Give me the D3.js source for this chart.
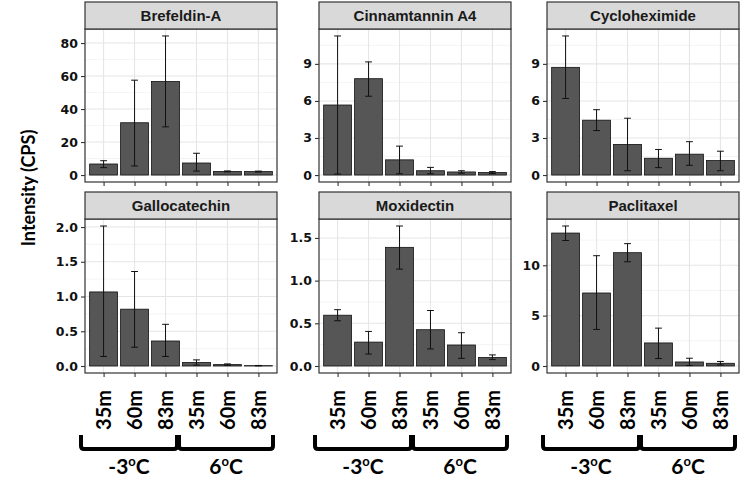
<!DOCTYPE html>
<html><head><meta charset="utf-8">
<script src="https://cdn.jsdelivr.net/npm/d3@7"></script>
<style>body{margin:0;background:#fff}</style>
</head><body><svg id="c" width="740" height="479"></svg>
<script>
// ---- data ----
const compounds = ["Brefeldin-A","Cinnamtannin A4","Cycloheximide","Gallocatechin","Moxidectin","Paclitaxel"];
const timepoints = ["35m","60m","83m","35m","60m","83m"];
const temperatures = ["-3","6"];

const meanBrefeldin = [6.7, 31.7, 56.7, 7.3, 2.2, 2.1];
const hiBrefeldin   = [8.7, 57.5, 84.3, 13.2, 2.5, 2.4];
const loBrefeldin   = [4.5, 5.5, 29.2, 2.4, 1.9, 1.8];

const meanCinnamtannin = [5.67, 7.8, 1.23, 0.35, 0.25, 0.2];
const hiCinnamtannin   = [11.26, 9.16, 2.34, 0.62, 0.35, 0.28];
const loCinnamtannin   = [0.08, 6.38, 0.1, 0.1, 0.15, 0.12];

const meanCycloheximide = [8.72, 4.44, 2.48, 1.36, 1.69, 1.17];
const hiCycloheximide   = [11.26, 5.29, 4.6, 2.07, 2.7, 1.93];
const loCycloheximide   = [6.2, 3.6, 0.35, 0.6, 0.79, 0.35];

const meanGallocatechin = [1.066, 0.818, 0.36, 0.05, 0.02, 0.005];
const hiGallocatechin   = [2.015, 1.36, 0.6, 0.088, 0.03, 0.008];
const loGallocatechin   = [0.137, 0.27, 0.137, 0.012, 0.01, 0.002];

const meanMoxidectin = [0.595, 0.28, 1.39, 0.425, 0.246, 0.1];
const hiMoxidectin   = [0.66, 0.405, 1.64, 0.65, 0.39, 0.13];
const loMoxidectin   = [0.53, 0.14, 1.135, 0.2, 0.09, 0.075];

const meanPaclitaxel = [13.2, 7.25, 11.25, 2.29, 0.4, 0.27];
const hiPaclitaxel   = [13.9, 10.95, 12.15, 3.76, 0.77, 0.45];
const loPaclitaxel   = [12.46, 3.63, 10.35, 0.74, 0.05, 0.1];

const ticksBrefeldin = [0, 20, 40, 60, 80];
const ticksCinnamtannin = [0, 3, 6, 9];
const ticksCycloheximide = [0, 3, 6, 9];
const ticksGallocatechin = [0, 0.5, 1, 1.5, 2];
const ticksMoxidectin = [0, 0.5, 1, 1.5];
const ticksPaclitaxel = [0, 5, 10];

// ---- assemble ----
const means = [meanBrefeldin, meanCinnamtannin, meanCycloheximide, meanGallocatechin, meanMoxidectin, meanPaclitaxel];
const his = [hiBrefeldin, hiCinnamtannin, hiCycloheximide, hiGallocatechin, hiMoxidectin, hiPaclitaxel];
const los = [loBrefeldin, loCinnamtannin, loCycloheximide, loGallocatechin, loMoxidectin, loPaclitaxel];
const ticks = [ticksBrefeldin, ticksCinnamtannin, ticksCycloheximide, ticksGallocatechin, ticksMoxidectin, ticksPaclitaxel];
const tickFmt = [d3.format("d"), d3.format("d"), d3.format("d"), d3.format(".1f"), d3.format(".1f"), d3.format("d")];

const svg = d3.select("#c");
svg.append("rect").attr("width",740).attr("height",479).attr("fill","#fff");

const colX = [85, 319, 547], panelW = 192;
const rowStrip = [2, 192], stripH = 27;
const rowTop = [29, 219], rowBot = [182, 373];

const cats = d3.range(6);

compounds.forEach((name, i) => {
  const col = i % 3, row = Math.floor(i / 3);
  const x0 = colX[col], x1 = x0 + panelW;
  const yT = rowTop[row], yB = rowBot[row];
  const x = d3.scalePoint().domain(cats).range([x0, x1]).padding(0.6);
  const step = x.step();
  const bw = step * 0.9;
  const maxV = d3.max(his[i]);
  const rng = maxV - 0;
  const y = d3.scaleLinear().domain([0 - 0.05 * rng, maxV + 0.05 * rng]).range([yB, yT]);

  const g = svg.append("g");
  g.append("rect").attr("x", x0).attr("y", yT).attr("width", panelW).attr("height", yB - yT).attr("fill", "#fff");
  const tk = ticks[i];
  const minor = [];
  for (let k = 0; k < tk.length; k++) {
    const d = tk[1] - tk[0];
    const m = tk[k] + d / 2;
    if (m < y.domain()[1]) minor.push(m);
  }
  g.selectAll(".mn").data(minor).join("line")
    .attr("x1", x0).attr("x2", x1).attr("y1", d => y(d)).attr("y2", d => y(d))
    .attr("stroke", "#ececec").attr("stroke-width", 0.6);
  g.selectAll(".mj").data(tk).join("line")
    .attr("x1", x0).attr("x2", x1).attr("y1", d => y(d)).attr("y2", d => y(d))
    .attr("stroke", "#e6e6e6").attr("stroke-width", 1.1);
  g.selectAll(".vg").data(cats).join("line")
    .attr("x1", d => x(d)).attr("x2", d => x(d)).attr("y1", yT).attr("y2", yB)
    .attr("stroke", "#e6e6e6").attr("stroke-width", 1.1);

  g.selectAll(".bar").data(cats).join("rect")
    .attr("x", d => x(d) - bw / 2).attr("width", bw)
    .attr("y", d => y(means[i][d])).attr("height", d => y(0) - y(means[i][d]))
    .attr("fill", "#565656").attr("stroke", "#111").attr("stroke-width", 0.8);

  const cw = step * 0.22;
  const eb = g.selectAll(".eb").data(cats).join("g").attr("stroke", "#111").attr("stroke-width", 1);
  eb.append("line").attr("x1", d => x(d)).attr("x2", d => x(d)).attr("y1", d => y(his[i][d])).attr("y2", d => y(los[i][d]));
  eb.append("line").attr("x1", d => x(d) - cw / 2).attr("x2", d => x(d) + cw / 2).attr("y1", d => y(his[i][d])).attr("y2", d => y(his[i][d]));
  eb.append("line").attr("x1", d => x(d) - cw / 2).attr("x2", d => x(d) + cw / 2).attr("y1", d => y(los[i][d])).attr("y2", d => y(los[i][d]));

  g.append("rect").attr("x", x0).attr("y", yT).attr("width", panelW).attr("height", yB - yT)
    .attr("fill", "none").attr("stroke", "#333").attr("stroke-width", 1.2);

  g.append("rect").attr("x", x0).attr("y", rowStrip[row]).attr("width", panelW).attr("height", stripH)
    .attr("fill", "#d9d9d9").attr("stroke", "#333").attr("stroke-width", 1.2);
  g.append("text").attr("x", x0 + panelW / 2).attr("y", rowStrip[row] + stripH / 2).attr("dy", "0.36em")
    .attr("text-anchor", "middle").attr("font-family", "Liberation Sans, Arial, sans-serif")
    .attr("font-weight", "bold").attr("font-size", 15).attr("fill", "#1a1a1a").text(name);

  const ya = svg.append("g").attr("transform", `translate(${x0},0)`)
    .call(d3.axisLeft(y).tickValues(tk).tickFormat(tickFmt[i]).tickSize(4).tickPadding(3));
  ya.select(".domain").remove();
  ya.selectAll(".tick line").attr("stroke", "#333").attr("stroke-width", 1.1);
  ya.selectAll(".tick text").attr("font-family", "DejaVu Sans, sans-serif").attr("font-weight", "bold")
    .attr("font-size", 12.5).attr("fill", "#111");

  const xa = svg.append("g").attr("transform", `translate(0,${yB})`)
    .call(d3.axisBottom(x).tickSize(4).tickFormat(d => timepoints[d]));
  xa.select(".domain").remove();
  xa.selectAll(".tick line").attr("stroke", "#333").attr("stroke-width", 1.1);
  if (row === 0) {
    xa.selectAll(".tick text").remove();
  } else {
    xa.selectAll(".tick text")
      .attr("transform", "rotate(-90)").attr("x", -17).attr("y", 0).attr("dy", "0.36em")
      .attr("text-anchor", "end").attr("font-family", "Lato, sans-serif").attr("font-weight", "bold")
      .attr("font-size", 20).attr("fill", "#000");

    const mid = (x(2) + x(3)) / 2;
    const groups = [[x0 - 4, mid - 4], [mid - 2, x1 - 4]];
    groups.forEach((gr, k) => {
      const [l, r] = gr;
      const top = 435, bot = 449;
      svg.append("path")
        .attr("d", `M${l},${top} L${l},${bot - 3} Q${l},${bot} ${l + 3},${bot} L${r - 3},${bot} Q${r},${bot} ${r},${bot - 3} L${r},${top}`)
        .attr("fill", "none").attr("stroke", "#000").attr("stroke-width", 4);
      const t = svg.append("text").attr("x", (l + r) / 2).attr("y", 474).attr("text-anchor", "middle")
        .attr("font-family", "Lato, sans-serif").attr("font-weight", "bold").attr("font-size", 21).attr("fill", "#000");
      t.append("tspan").text(temperatures[k]);
      t.append("tspan").attr("font-size", 13).attr("dy", -8).text("o");
      t.append("tspan").attr("dy", 8).text("C");
    });
  }
});

svg.append("text").attr("transform", "translate(35,188) rotate(-90)").attr("text-anchor", "middle")
  .attr("font-family", "Lato, sans-serif").attr("font-weight", "bold").attr("font-size", 18).attr("fill", "#000")
  .text("Intensity (CPS)");
</script></body></html>
